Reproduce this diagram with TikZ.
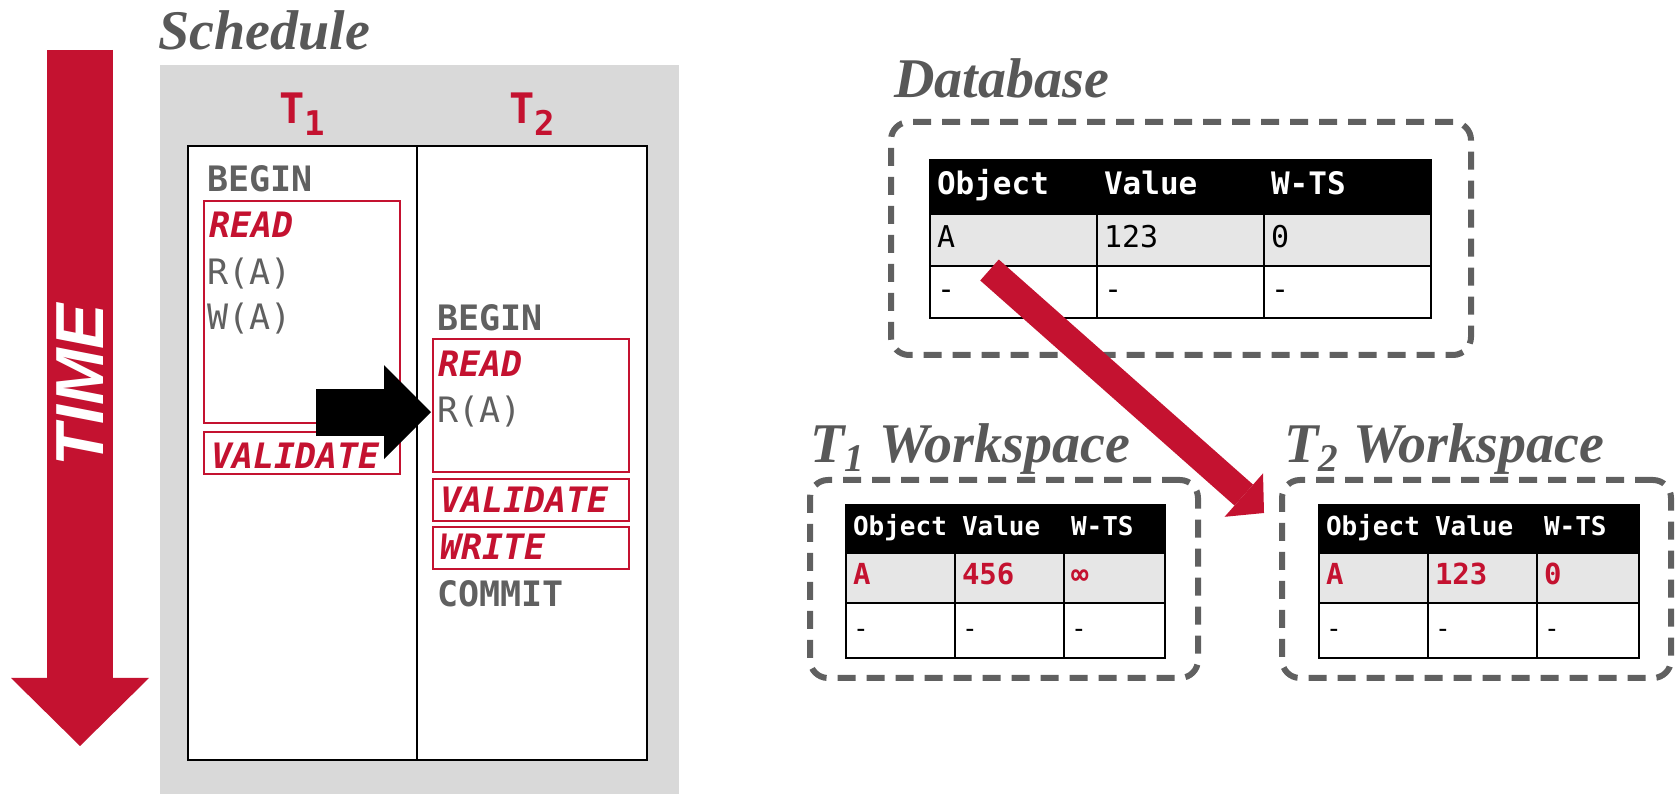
\documentclass[tikz,border=0pt]{standalone}
\usepackage{fontspec}
\setmainfont{Liberation Serif}
\newfontfamily\codefont{DejaVu Sans Mono}
\newfontfamily\headfont{Liberation Sans}
\usetikzlibrary{arrows.meta}
\definecolor{cmured}{RGB}{196,18,48}
\definecolor{titlegray}{RGB}{88,88,88}
\definecolor{codegray}{RGB}{96,96,96}
\definecolor{boxgray}{RGB}{217,217,217}
\definecolor{rowgray}{RGB}{230,230,230}
\definecolor{dashgray}{RGB}{96,96,96}
\begin{document}
\begin{tikzpicture}[>=latex,line join=miter,
  title/.style={anchor=base west,inner sep=0pt,text=titlegray,font=\bfseries\itshape\fontsize{28bp}{30bp}\selectfont},
  code/.style={anchor=base west,inner sep=0pt,text=codegray,font=\codefont\fontsize{17.5bp}{20bp}\selectfont},
  keyword/.style={code,font=\codefont\bfseries\fontsize{17.5bp}{20bp}\selectfont},
  phase/.style={code,text=cmured,font=\codefont\bfseries\itshape\fontsize{17.5bp}{20bp}\selectfont},
  txn/.style={anchor=base,inner sep=0pt,text=cmured,font=\codefont\bfseries\fontsize{21bp}{24bp}\selectfont},
  phasebox/.style={draw=cmured,line width=0.8bp,inner sep=0pt},
  dashbox/.style={draw=dashgray,line width=3bp,dash pattern=on 9bp off 5.5bp,rounded corners=9bp,inner sep=0pt},
  cell/.style={draw=black,line width=1bp,anchor=north west,inner xsep=3.5bp,inner ysep=0pt,align=left},
  dbcell/.style={cell,text width=76.5bp,text height=11bp,text depth=3bp,font=\codefont\fontsize{15bp}{17bp}\selectfont},
  dbhead/.style={dbcell,fill=black,text=white,minimum height=27bp,font=\codefont\bfseries\fontsize{15.5bp}{17bp}\selectfont},
  wscell/.style={cell,text height=10bp,text depth=3bp,font=\codefont\fontsize{13bp}{15bp}\selectfont},
  wshead/.style={wscell,fill=black,text=white,minimum height=24bp,font=\codefont\bfseries\fontsize{13bp}{15bp}\selectfont},
  wsred/.style={wscell,fill=rowgray,text=cmured,minimum height=25bp,font=\codefont\bfseries\fontsize{14.5bp}{16bp}\selectfont},
  ]
%%
\fill[white] (0bp,0bp) rectangle (838bp,397bp);
\useasboundingbox (0bp,0bp) rectangle (838bp,397bp);
%% time
\coordinate (time_top) at (40bp,372bp);
\coordinate (time_tip) at (40bp,24bp);
\draw [cmured,line width=33bp,-{Triangle[length=34bp,width=69bp,line width=0pt]}] (time_top) -- (time_tip);
\node (time_lbl) at (40bp,204.5bp) [rotate=90,inner sep=0pt,text=white,font=\headfont\bfseries\itshape\fontsize{34bp}{36bp}\selectfont] {TIME};
%% schedule
\node (sched_title) at (79bp,372bp) [title] {Schedule};
\node (sched_bg) at (209.75bp,182.25bp) [fill=boxgray,minimum width=259.5bp,minimum height=364.5bp,inner sep=0pt] {};
\node (col_t1) at (151.125bp,170.5bp) [draw=black,line width=1bp,fill=white,minimum width=114.75bp,minimum height=307bp,inner sep=0pt] {};
\node (col_t2) at (266bp,170.5bp) [draw=black,line width=1bp,fill=white,minimum width=115bp,minimum height=307bp,inner sep=0pt] {};
\node (lbl_t1) at (151bp,335bp) [txn] {T\raisebox{-6bp}{\fontsize{17bp}{19bp}\selectfont 1}};
\node (lbl_t2) at (266bp,335bp) [txn] {T\raisebox{-6bp}{\fontsize{17bp}{19bp}\selectfont 2}};
%
\node (read_box_t1) at (151bp,241bp) [phasebox,minimum width=98bp,minimum height=111bp] {};
\node (val_box_t1) at (151bp,170.5bp) [phasebox,minimum width=98bp,minimum height=21bp] {};
\node (read_box_t2) at (265.5bp,194.25bp) [phasebox,minimum width=98bp,minimum height=66.5bp] {};
\node (val_box_t2) at (265.5bp,147bp) [phasebox,minimum width=98bp,minimum height=21bp] {};
\node (write_box_t2) at (265.5bp,123bp) [phasebox,minimum width=98bp,minimum height=21bp] {};
%
\node (begin_t1) at (103.5bp,301bp) [keyword] {BEGIN};
\node (read_t1) at (104.5bp,278bp) [phase] {READ};
\node (ra_t1) at (103.5bp,254.5bp) [code] {R(A)};
\node (wa_t1) at (103.5bp,232bp) [code] {W(A)};
\node (val_t1) at (105.5bp,162.5bp) [phase] {VALIDATE};
\node (begin_t2) at (218.5bp,231.5bp) [keyword] {BEGIN};
\node (read_t2) at (219bp,208.5bp) [phase] {READ};
\node (ra_t2) at (218.5bp,185.5bp) [code] {R(A)};
\node (val_t2) at (220bp,140.5bp) [phase] {VALIDATE};
\node (write_t2) at (220bp,117bp) [phase] {WRITE};
\node (commit_t2) at (218.5bp,93.5bp) [keyword] {COMMIT};
%
\coordinate (blk_tail) at ([xshift=-60.5bp]ra_t2.west);
\draw [black,line width=23.5bp,-{Triangle[length=23.5bp,width=47bp,line width=0pt]}] (blk_tail) -- ([xshift=-3bp]ra_t2.west);
%% database
\node (db_title) at (447bp,348bp) [title] {Database};
\node (db_box) at (590.5bp,277.75bp) [dashbox,minimum width=290bp,minimum height=116.5bp] {};
\node (db_h1) at (464.5bp,317.5bp) [dbhead] {Object};
\node (db_h2) at (548bp,317.5bp) [dbhead] {Value};
\node (db_h3) at (631.5bp,317.5bp) [dbhead] {W-TS};
\node (db_a1) at (464.5bp,290.5bp) [dbcell,fill=rowgray,minimum height=26bp] {A};
\node (db_a2) at (548bp,290.5bp) [dbcell,fill=rowgray,minimum height=26bp] {123};
\node (db_a3) at (631.5bp,290.5bp) [dbcell,fill=rowgray,minimum height=26bp] {0};
\node (db_b1) at (464.5bp,264.5bp) [dbcell,fill=white,minimum height=26bp] {-};
\node (db_b2) at (548bp,264.5bp) [dbcell,fill=white,minimum height=26bp] {-};
\node (db_b3) at (631.5bp,264.5bp) [dbcell,fill=white,minimum height=26bp] {-};
%% workspace T1
\node (ws1_title) at (405bp,165.5bp) [title] {T\textsubscript{1} Workspace};
\node (ws1_box) at (502bp,107.5bp) [dashbox,minimum width=194bp,minimum height=99bp] {};
\node (ws1_h1) at (422.5bp,145bp) [wshead,text width=47.5bp] {Object};
\node (ws1_h2) at (477bp,145bp) [wshead,text width=47.5bp] {Value};
\node (ws1_h3) at (531.5bp,145bp) [wshead,text width=43.5bp] {W-TS};
\node (ws1_a1) at (422.5bp,121bp) [wsred,text width=47.5bp] {A};
\node (ws1_a2) at (477bp,121bp) [wsred,text width=47.5bp] {456};
\node (ws1_a3) at (531.5bp,121bp) [wsred,text width=43.5bp] {∞};
\node (ws1_b1) at (422.5bp,96bp) [wscell,fill=white,minimum height=27.5bp,text width=47.5bp] {-};
\node (ws1_b2) at (477bp,96bp) [wscell,fill=white,minimum height=27.5bp,text width=47.5bp] {-};
\node (ws1_b3) at (531.5bp,96bp) [wscell,fill=white,minimum height=27.5bp,text width=43.5bp] {-};
%% workspace T2
\node (ws2_title) at (642bp,165.5bp) [title] {T\textsubscript{2} Workspace};
\node (ws2_box) at (738.25bp,107.5bp) [dashbox,minimum width=194.5bp,minimum height=99bp] {};
\node (ws2_h1) at (659bp,145bp) [wshead,text width=47.5bp] {Object};
\node (ws2_h2) at (713.5bp,145bp) [wshead,text width=47.5bp] {Value};
\node (ws2_h3) at (768bp,145bp) [wshead,text width=44bp] {W-TS};
\node (ws2_a1) at (659bp,121bp) [wsred,text width=47.5bp] {A};
\node (ws2_a2) at (713.5bp,121bp) [wsred,text width=47.5bp] {123};
\node (ws2_a3) at (768bp,121bp) [wsred,text width=44bp] {0};
\node (ws2_b1) at (659bp,96bp) [wscell,fill=white,minimum height=27.5bp,text width=47.5bp] {-};
\node (ws2_b2) at (713.5bp,96bp) [wscell,fill=white,minimum height=27.5bp,text width=47.5bp] {-};
\node (ws2_b3) at (768bp,96bp) [wscell,fill=white,minimum height=27.5bp,text width=44bp] {-};
%% copy
\coordinate (copy_from) at (494.75bp,262bp);
\coordinate (copy_to) at (632bp,140.5bp);
\draw [cmured,line width=14bp,-{Triangle[length=13.5bp,width=29bp,line width=0pt]}] (copy_from) -- (copy_to);
%
\end{tikzpicture}
\end{document}
